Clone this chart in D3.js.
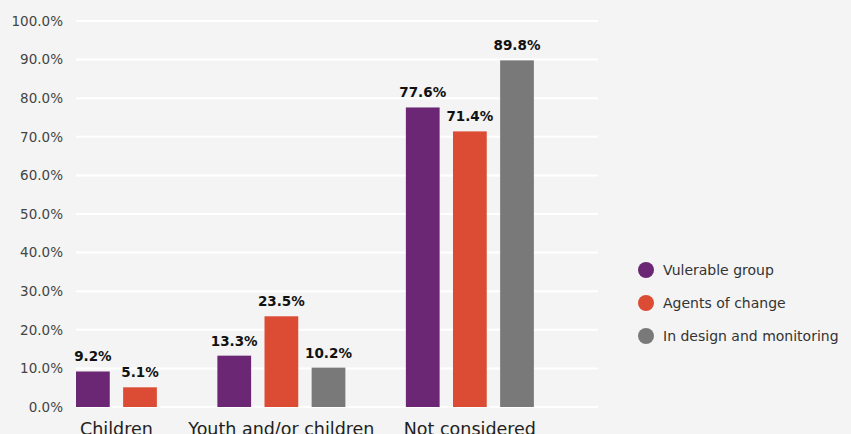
<!DOCTYPE html>
<html>
<head>
<meta charset="utf-8">
<script src="https://cdn.jsdelivr.net/npm/d3@7"></script>
<style>
  body { margin: 0; background: #f3f4f3; }
  svg { display: block; font-family: "DejaVu Sans", "Liberation Sans", Arial, sans-serif; }
</style>
</head>
<body>
<div id="chart"></div>
<script>
// Data
const groups = ["Children", "Youth and/or children", "Not considered"];
const seriesNames = ["Vulerable group", "Agents of change", "In design and monitoring"];
const vulnerable = [9.2, 13.3, 77.6];
const agents = [5.1, 23.5, 71.4];
const design = [null, 10.2, 89.8];   // no bar for Children
const yTicks = [0, 10, 20, 30, 40, 50, 60, 70, 80, 90, 100];
const colors = ["#6b2773", "#dc4c35", "#797979"];

const width = 851, height = 434;
const margin = { top: 21, left: 76, right: 253, bottom: 27 };
const plotW = width - margin.left - margin.right;
const plotH = height - margin.top - margin.bottom;

const svg = d3.select("#chart")
    .append("svg")
    .attr("width", width)
    .attr("height", height);

svg.append("rect")
    .attr("width", width)
    .attr("height", height)
    .attr("fill", "#f3f4f3");

const g = svg.append("g")
    .attr("transform", `translate(${margin.left},${margin.top})`);

// Flatten bars into slots: each group's bars followed by one empty slot
const values = [vulnerable, agents, design];
const bars = [];
const slots = [];
groups.forEach((grp, gi) => {
    values.forEach((arr, si) => {
        if (arr[gi] != null) {
            const key = grp + "|" + si;
            slots.push(key);
            bars.push({ key, group: grp, series: si, value: arr[gi] });
        }
    });
    slots.push("gap" + gi);
});

const x = d3.scaleBand()
    .domain(slots)
    .range([0, plotW - 17])
    .paddingInner(0.284)
    .paddingOuter(0);

const y = d3.scaleLinear()
    .domain([0, 100])
    .range([plotH, 0]);

// Gridlines
g.selectAll(".grid")
    .data(yTicks)
    .enter()
    .append("line")
    .attr("x1", 0)
    .attr("x2", plotW)
    .attr("y1", d => y(d))
    .attr("y2", d => y(d))
    .attr("stroke", "#ffffff")
    .attr("stroke-width", 2);

// Y tick labels
g.selectAll(".ytick")
    .data(yTicks)
    .enter()
    .append("text")
    .attr("x", -13)
    .attr("y", d => y(d))
    .attr("dy", "0.35em")
    .attr("text-anchor", "end")
    .attr("font-size", 13.5)
    .attr("fill", "#444")
    .text(d => d.toFixed(1) + "%");

// Bars
g.selectAll(".bar")
    .data(bars)
    .enter()
    .append("rect")
    .attr("x", d => x(d.key))
    .attr("y", d => y(d.value))
    .attr("width", x.bandwidth())
    .attr("height", d => y(0) - y(d.value))
    .attr("fill", d => colors[d.series]);

// Value labels
g.selectAll(".val")
    .data(bars)
    .enter()
    .append("text")
    .attr("x", d => x(d.key) + x.bandwidth() / 2)
    .attr("y", d => y(d.value) - 10)
    .attr("text-anchor", "middle")
    .attr("font-size", 13.5)
    .attr("font-weight", "bold")
    .attr("fill", "#111")
    .text(d => d.value.toFixed(1) + "%");

// Category labels, centred under each group's bars
groups.forEach(grp => {
    const gb = bars.filter(b => b.group === grp);
    const x0 = x(gb[0].key);
    const x1 = x(gb[gb.length - 1].key) + x.bandwidth();
    g.append("text")
        .attr("x", (x0 + x1) / 2)
        .attr("y", plotH + 28)
        .attr("text-anchor", "middle")
        .attr("font-size", 17.5)
        .attr("fill", "#222")
        .text(grp);
});

// Legend
const legend = svg.append("g")
    .attr("transform", "translate(646, 270)");

seriesNames.forEach((name, i) => {
    legend.append("circle")
        .attr("cx", 0)
        .attr("cy", i * 33)
        .attr("r", 8)
        .attr("fill", colors[i]);
    legend.append("text")
        .attr("x", 17)
        .attr("y", i * 33)
        .attr("dy", "0.35em")
        .attr("font-size", 14)
        .attr("fill", "#333")
        .text(name);
});
</script>
</body>
</html>
